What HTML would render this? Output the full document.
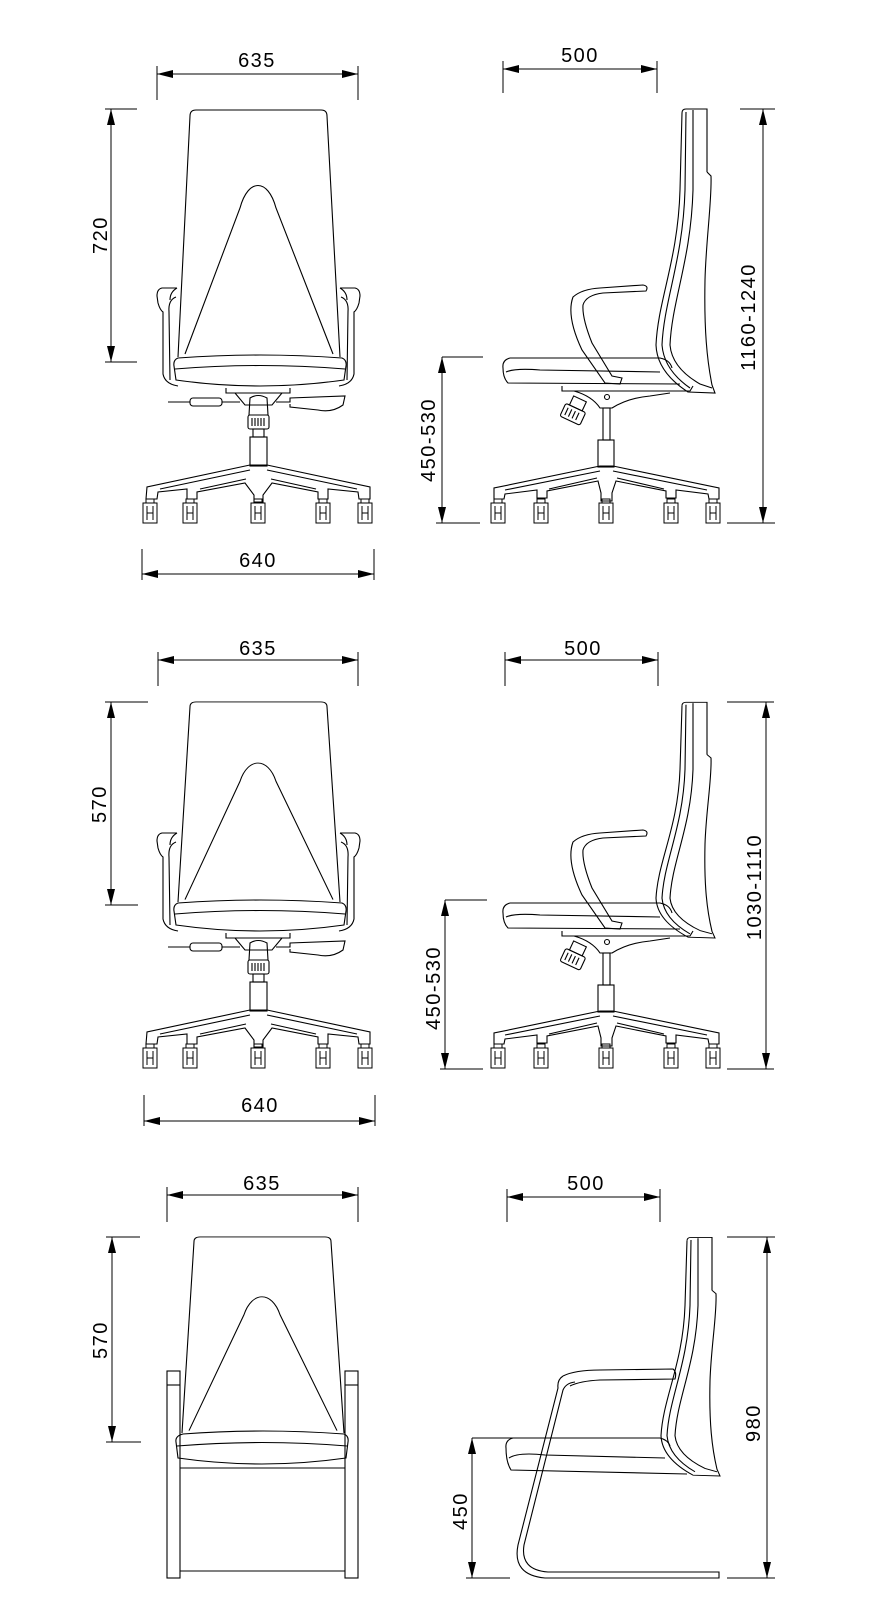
<!DOCTYPE html>
<html><head><meta charset="utf-8"><style>
html,body{margin:0;padding:0;background:#fff}
svg{display:block}
text{font-family:"Liberation Sans",sans-serif;font-size:20px;letter-spacing:1.5px;fill:#000}
</style></head><body>
<svg width="880" height="1623" viewBox="0 0 880 1623" xmlns="http://www.w3.org/2000/svg">
<defs>
<g id="caster" fill="none" stroke="#000" stroke-width="1">
<rect x="-4" y="-4" width="8" height="4"/>
<rect x="-7" y="0" width="14" height="20"/>
<line x1="-3" y1="3" x2="-3" y2="17"/><line x1="3" y1="3" x2="3" y2="17"/>
<line x1="-3" y1="10" x2="3" y2="10"/>
</g>
<g id="frontBack" fill="none" stroke="#000" stroke-width="1.1">
<path d="M178,357 L190,116 Q190,110 196,110 L321,110 Q327,110 327,116 L340,357"/>
<path d="M185,354 L240,208 C248,178 268,178 276,208 L333,354"/>
</g>
<g id="frontArm" fill="none" stroke="#000" stroke-width="1.1">
<path d="M177,288 L162,288 Q157,289 157,296 L158,303 Q160,310 163,312 L163,374 Q165,384 178,386"/>
<path d="M176,297 Q168,300 169,312 L170,380"/>
<path d="M177,288 Q170,292 170,300"/>
</g>
<g id="frontLower" fill="none" stroke="#000" stroke-width="1.1">
<path d="M178,358 Q260,352 342,358 Q347,360 346,366 L344,380 Q260,392 176,380 L174,366 Q173,360 178,358 Z"/>
<path d="M175,369 Q260,362 345,369"/>
<use href="#frontArm"/>
<use href="#frontArm" transform="translate(517,0) scale(-1,1)"/>
<path d="M226,388 L226,393 L290,393 L290,388"/>
<path d="M235,393 L245,405 L272,405 L282,393"/>
<line x1="168" y1="402" x2="190" y2="402"/>
<rect x="190" y="398" width="32" height="8" rx="3"/>
<line x1="222" y1="402" x2="240" y2="402"/>
<path d="M276,402 L290,402 L290,398 L345,396 L343,405 Q332,413 318,410 L290,407 L290,404"/>
<path d="M250,398 Q258,393 267,398 L268,415 L249,415 Z"/>
<rect x="248" y="415" width="21" height="14" rx="2"/>
<path d="M252,418 V426 M255,418 V426 M258,418 V426 M261,418 V426 M264,418 V426"/>
<rect x="253" y="429" width="11" height="8"/>
<rect x="250" y="437" width="17" height="29"/>
<path d="M250,465 L147,487 L146,499 L157,499 L158,492 L187,489 L187,499 L197,499 L197,492 L245,483 L254,495 L254,502 L263,502 L263,495 L272,483 L318,492 L318,499 L328,499 L328,489 L358,492 L359,499 L370,499 L370,487 L267,465 Z"/>
<path d="M250,470 L160,489 M267,470 L357,489 M246,479 L200,489 M271,479 L316,489"/>
<use href="#caster" x="150" y="503"/><use href="#caster" x="190" y="503"/><use href="#caster" x="258" y="503"/><use href="#caster" x="323" y="503"/><use href="#caster" x="365" y="503"/>
</g>
<g id="sideBack" fill="none" stroke="#000" stroke-width="1.1">
<path d="M682,113 Q682,109 686,109 L707,109 L707,172"/>
<path d="M682,113 L680,190 C678,260 658,300 656,345 Q657,372 688,392 L715,393 L712,385 C707,360 704,330 705,280 C706,240 712,200 711,176 L707,172"/>
<path d="M686,112 L685,190 C683,260 664,300 662,345 Q664,370 690,388"/>
<path d="M693,110 L693,190 C691,260 672,300 670,345 Q672,368 700,384 L712,388"/>
</g>
<g id="sideLower" fill="none" stroke="#000" stroke-width="1.1">
<path d="M510,358 L660,358 Q670,360 672,368 M510,358 Q502,360 503,368 Q503,378 508,383 L680,384"/>
<path d="M506,372 Q515,368 540,370 L660,372"/>
<path d="M573,297 Q582,289 600,288 L643,285 Q649,286 646,291 L603,293 Q586,295 583,305 Q582,318 592,343 L612,376 L622,378 L620,384 L605,383 L582,350 Q566,316 573,297 Z"/>
<path d="M562,386 L562,391 L690,391 L693,386"/>
<path d="M574,391 Q592,396 600,408 L612,408 Q628,398 650,396 L670,393"/>
<circle cx="607" cy="397" r="2.5"/>
<g transform="rotate(25 575 412)"><rect x="567" y="398" width="14" height="10"/><rect x="563" y="408" width="22" height="14" rx="2"/><path d="M567,411 V419 M571,411 V419 M575,411 V419 M579,411 V419"/></g>
<rect x="603" y="408" width="7" height="32"/>
<rect x="598" y="440" width="16" height="27"/>
<path d="M600,466 L494,488 L494,499 L504,499 L505,494 L537,490 L537,498 L547,498 L547,491 L598,481 L601,493 L601,501 L612,501 L612,493 L616,481 L666,491 L666,498 L676,498 L676,490 L708,494 L709,499 L719,499 L719,488 L613,466 Z"/>
<path d="M600,471 L505,490 M613,471 L707,490 M597,478 L549,489 M617,478 L664,489"/>
<use href="#caster" x="498" y="503"/><use href="#caster" x="541" y="503"/><use href="#caster" x="606" y="503"/><use href="#caster" x="671" y="503"/><use href="#caster" x="713" y="503"/>
</g>
</defs>

<use href="#frontBack"/>
<use href="#frontLower"/>
<use href="#sideBack"/>
<use href="#sideLower"/>

<use href="#frontBack" transform="translate(0,902) scale(1,0.81) translate(0,-357)"/>
<use href="#frontLower" transform="translate(0,545)"/>
<use href="#sideBack" transform="translate(0,938) scale(1,0.83) translate(0,-393)"/>
<use href="#sideLower" transform="translate(0,545)"/>

<use href="#frontBack" transform="translate(4,1433) scale(1,0.794) translate(0,-357)"/>
<g fill="none" stroke="#000" stroke-width="1.1">
<path d="M183,1434 Q262,1428 344,1434 Q349,1436 348,1442 L346,1458 Q262,1470 178,1458 L176,1442 Q175,1436 183,1434 Z"/>
<path d="M177,1446 Q262,1439 347,1446"/>
<rect x="167" y="1371" width="13" height="207"/><line x1="167" y1="1385" x2="180" y2="1385"/>
<rect x="345" y="1371" width="13" height="207"/><line x1="345" y1="1385" x2="358" y2="1385"/>
<line x1="180" y1="1468" x2="345" y2="1468"/>
<line x1="180" y1="1571" x2="345" y2="1571"/>
</g>
<use href="#sideBack" transform="translate(5,1476) scale(1,0.84) translate(0,-393)"/>
<g fill="none" stroke="#000" stroke-width="1.1">
<path d="M513,1438 L660,1438 Q668,1440 670,1446 M513,1438 Q505,1440 506,1448 Q506,1462 511,1470 L687,1474"/>
<path d="M509,1458 Q518,1452 545,1455 L665,1458"/>
<path d="M563,1376 Q575,1370 600,1370 L673,1369 Q677,1372 675,1379 L600,1380 Q580,1381 570,1386"/>
<path d="M563,1376 Q557,1380 558,1388 L518,1545 Q512,1575 545,1578 L719,1578 L719,1572 L548,1572 Q520,1570 524,1545 L563,1390 Q566,1383 575,1382"/>
</g>

<g stroke="#000" stroke-width="1" fill="none">
<path d="M157,74 H358 M157,66 V100 M358,66 V100"/>
<path d="M503,69 H657 M503,61 V93 M657,61 V93"/>
<path d="M111,109 V362 M105,109 H137 M105,362 H137"/>
<path d="M763,109 V523 M740,109 H775 M727,523 H775"/>
<path d="M442,357 V523 M442,357 H483 M436,523 H480"/>
<path d="M142,574 H374 M142,549 V580 M374,549 V580"/>
<path d="M158,660 H358 M158,652 V686 M358,652 V686"/>
<path d="M505,660 H658 M505,652 V686 M658,652 V686"/>
<path d="M111,702 V905 M105,702 H148 M105,905 H138"/>
<path d="M766,702 V1069 M727,702 H774 M727,1069 H774"/>
<path d="M445,900 V1069 M445,900 H487 M440,1069 H483"/>
<path d="M144,1121 H375 M144,1095 V1126 M375,1095 V1126"/>
<path d="M167,1195 H358 M167,1187 V1222 M358,1187 V1222"/>
<path d="M507,1197 H660 M507,1189 V1222 M660,1189 V1222"/>
<path d="M112,1237 V1442 M106,1237 H140 M106,1442 H141"/>
<path d="M767,1237 V1578 M727,1237 H775 M727,1578 H775"/>
<path d="M472,1438 V1578 M472,1438 H513 M466,1578 H510"/>
</g>
<g fill="#000">
<path d="M157,74 l16,-4 v8Z M358,74 l-16,-4 v8Z"/>
<path d="M503,69 l16,-4 v8Z M657,69 l-16,-4 v8Z"/>
<path d="M142,574 l16,-4 v8Z M374,574 l-16,-4 v8Z"/>
<path d="M158,660 l16,-4 v8Z M358,660 l-16,-4 v8Z"/>
<path d="M505,660 l16,-4 v8Z M658,660 l-16,-4 v8Z"/>
<path d="M144,1121 l16,-4 v8Z M375,1121 l-16,-4 v8Z"/>
<path d="M167,1195 l16,-4 v8Z M358,1195 l-16,-4 v8Z"/>
<path d="M507,1197 l16,-4 v8Z M660,1197 l-16,-4 v8Z"/>
<path d="M111,109 l-4,16 h8Z M111,362 l-4,-16 h8Z"/>
<path d="M763,109 l-4,16 h8Z M763,523 l-4,-16 h8Z"/>
<path d="M442,357 l-4,16 h8Z M442,523 l-4,-16 h8Z"/>
<path d="M111,702 l-4,16 h8Z M111,905 l-4,-16 h8Z"/>
<path d="M766,702 l-4,16 h8Z M766,1069 l-4,-16 h8Z"/>
<path d="M445,900 l-4,16 h8Z M445,1069 l-4,-16 h8Z"/>
<path d="M112,1237 l-4,16 h8Z M112,1442 l-4,-16 h8Z"/>
<path d="M767,1237 l-4,16 h8Z M767,1578 l-4,-16 h8Z"/>
<path d="M472,1438 l-4,16 h8Z M472,1578 l-4,-16 h8Z"/>
</g>
<g text-anchor="middle">
<text x="257" y="67">635</text>
<text x="580" y="62">500</text>
<text x="258" y="567">640</text>
<text x="258" y="655">635</text>
<text x="583" y="655">500</text>
<text x="260" y="1112">640</text>
<text x="262" y="1190">635</text>
<text x="586" y="1190">500</text>
<text transform="translate(107,235) rotate(-90)">720</text>
<text transform="translate(755,317) rotate(-90)">1160-1240</text>
<text transform="translate(435,440) rotate(-90)">450-530</text>
<text transform="translate(106,804) rotate(-90)">570</text>
<text transform="translate(761,887) rotate(-90)">1030-1110</text>
<text transform="translate(440,988) rotate(-90)">450-530</text>
<text transform="translate(107,1340) rotate(-90)">570</text>
<text transform="translate(760,1423) rotate(-90)">980</text>
<text transform="translate(467,1511) rotate(-90)">450</text>
</g>
</svg>
</body></html>
